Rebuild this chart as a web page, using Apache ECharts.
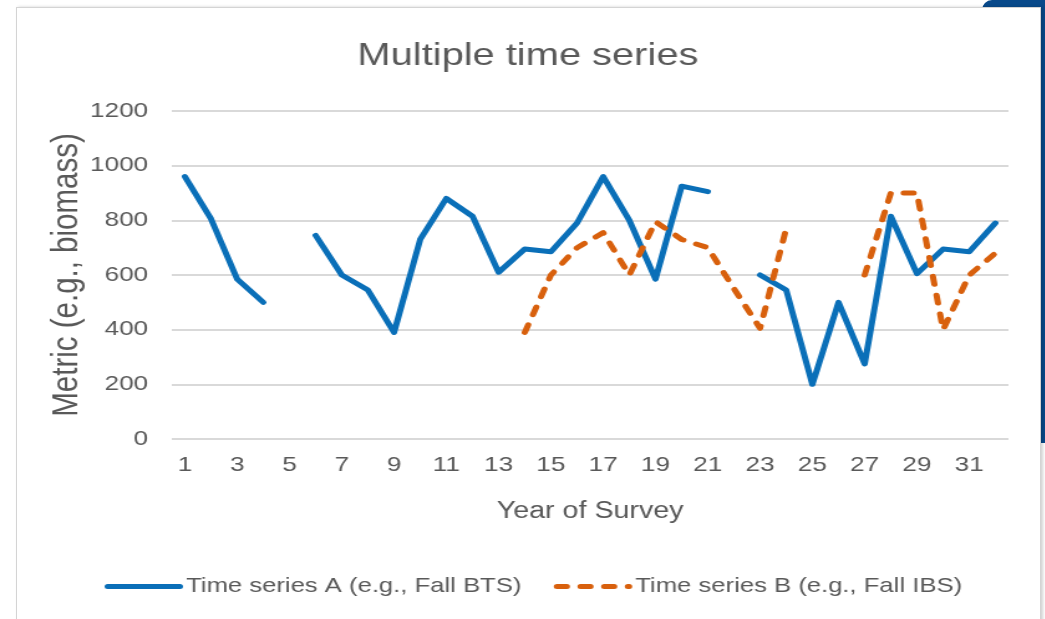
<!DOCTYPE html>
<html>
<head>
<meta charset="UTF-8">
<title>Multiple time series</title>
<script src="https://cdn.jsdelivr.net/npm/echarts@6/dist/echarts.min.js"></script>
<style>
html, body { margin: 0; padding: 0; background: #fff; }
body { width: 1045px; height: 619px; position: relative; overflow: hidden; }
.tab { position: absolute; left: 982px; top: 0; width: 63px; height: 443px; background: #08498a; border-top-left-radius: 10px; }
.card { position: absolute; left: 16px; top: 7px; width: 1023px; height: 700px; background: #fff; border: 1px solid #d4d4d4; box-shadow: 2px 0 3px rgba(0,0,0,0.18); }
/* the source picture is stretched sideways, so the chart is drawn narrow and scaled in x */
#chart { position: absolute; left: 0; top: 0; width: 839px; height: 619px; transform: scaleX(1.245); transform-origin: 0 0; }
</style>
</head>
<body>
<div class="tab"></div>
<div class="card"></div>
<div id="chart"></div>
<script>
const years = ['1','2','3','4','5','6','7','8','9','10','11','12','13','14','15','16',
  '17','18','19','20','21','22','23','24','25','26','27','28','29','30','31','32'];
const seriesA = [960, 805, 585, 500, null, 745, 600, 545, 390, 730, 880, 815, 610, 695, 685, 790,
  960, 800, 585, 925, 905, null, 600, 545, 200, 500, 275, 815, 605, 695, 685, 790];
const seriesB = [null, null, null, null, null, null, null, null, null, null, null, null, null, 390, 600, 700,
  755, 600, 795, 730, 700, 550, 405, 770, null, null, 600, 900, 900, 400, 600, 680];
const nameA = 'Time series A (e.g., Fall BTS)';
const nameB = 'Time series B (e.g., Fall IBS)';

const font = "'Liberation Sans', Arial, sans-serif";
const grey = '#595959';

const chart = echarts.init(document.getElementById('chart'), null, { renderer: 'canvas' });
chart.setOption({
  backgroundColor: 'transparent',
  animation: false,
  title: {
    text: 'Multiple time series',
    left: 419,
    top: 35,
    textAlign: 'center',
    textStyle: { fontFamily: font, fontSize: 32, fontWeight: 'normal', color: grey }
  },
  grid: { left: 138, right: 29, top: 111, bottom: 180 },
  legend: {
    left: 79,
    top: 571,
    itemWidth: 58,
    itemHeight: 14,
    itemGap: 26,
    itemStyle: { opacity: 0 },
    lineStyle: { width: 5 },
    textStyle: { fontFamily: font, fontSize: 20.6, color: grey },
    data: [nameA, nameB]
  },
  xAxis: {
    type: 'category',
    data: years,
    boundaryGap: true,
    name: 'Year of Survey',
    nameLocation: 'middle',
    nameGap: 61,
    nameMoveOverlap: false,
    nameTextStyle: { fontFamily: font, fontSize: 23, color: grey },
    axisLine: { show: false },
    axisTick: { show: false },
    axisLabel: { interval: 1, margin: 16, fontFamily: font, fontSize: 21, color: grey }
  },
  yAxis: {
    type: 'value',
    min: 0,
    max: 1200,
    interval: 200,
    name: 'Metric (e.g., biomass)',
    nameLocation: 'middle',
    nameGap: 69,
    nameMoveOverlap: false,
    nameTextStyle: { fontFamily: font, fontSize: 29.5, color: grey },
    axisLine: { show: false },
    axisTick: { show: false },
    axisLabel: { margin: 19, fontFamily: font, fontSize: 21, color: grey, formatter: v => String(v) },
    splitLine: { lineStyle: { color: '#d9d9d9', width: 2 } }
  },
  series: [
    {
      name: nameA,
      type: 'line',
      data: seriesA,
      symbol: 'none',
      connectNulls: false,
      color: '#0a6fb8',
      lineStyle: { width: 5, color: '#0a6fb8', cap: 'round', join: 'round' }
    },
    {
      name: nameB,
      type: 'line',
      data: seriesB,
      symbol: 'none',
      connectNulls: false,
      color: '#d8600d',
      lineStyle: { width: 5, color: '#d8600d', type: [8, 11], cap: 'round', join: 'round' }
    }
  ]
});
</script>
</body>
</html>
